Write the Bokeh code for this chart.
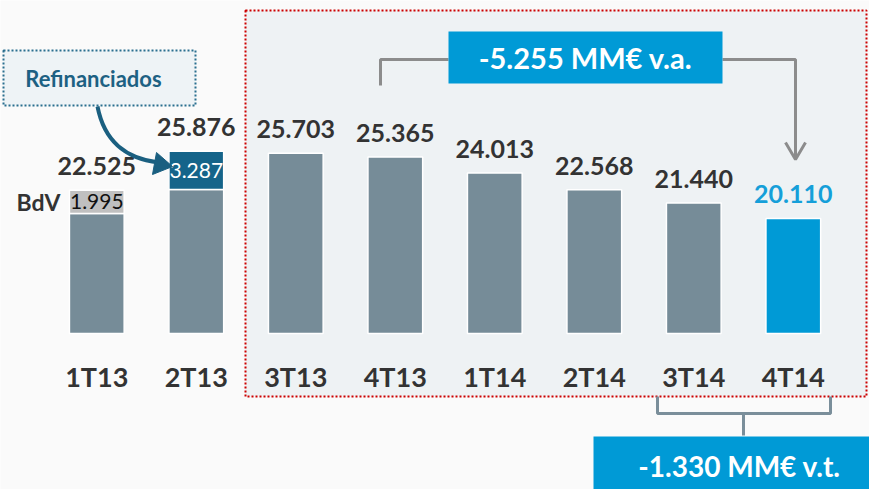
from bokeh.plotting import figure
from bokeh.models import Range1d
from bokeh.core.properties import value
from bokeh.embed import file_html
from bokeh.resources import INLINE

# ---- data ----
quarters = ["1T13", "2T13", "3T13", "4T13", "1T14", "2T14", "3T14", "4T14"]
totals = [22.525, 25.876, 25.703, 25.365, 24.013, 22.568, 21.440, 20.110]
bdv = [1.995, 0, 0, 0, 0, 0, 0, 0]
refinanciados = [0, 3.287, 0, 0, 0, 0, 0, 0]
va_label = "-5.255 MM€ v.a."
vt_label = "-1.330 MM€ v.t."
bdv_label = "BdV"
refin_label = "Refinanciados"

def fmt(v):
    return f"{v:.3f}"

# ---- layout helpers (pixel -> data) ----
W, H = 869, 489
PX0, PX_STEP = 96.3, 99.5
PY_REF, PX_PER_UNIT = 213.0, 11.66
V_REF = totals[0] - bdv[0]

def X(px):
    return (px - PX0) / PX_STEP

def Y(py):
    return V_REF - (py - PY_REF) / PX_PER_UNIT

y_floor = Y(333)
FONT = value("Lato")
DARK = "#333333"
SLATE = "#768c98"
BLUE = "#009ad6"
NAVY = "#15648a"

p = figure(width=W, height=H, x_range=Range1d(X(0), X(W)),
           y_range=Range1d(Y(H), Y(0)), output_backend="svg",
           toolbar_location=None, min_border=0,
           x_axis_type=None, y_axis_type=None)
p.grid.visible = False
p.outline_line_color = None
p.background_fill_color = "#fafafa"
p.border_fill_color = "#fafafa"

# highlighted region
p.quad(left=X(245), right=X(866), top=Y(10), bottom=Y(396),
       fill_color="#eef2f4", line_color="#cc0000", line_width=2, line_dash="2 2")

idx = list(range(len(quarters)))
base = [t - b - r for t, b, r in zip(totals, bdv, refinanciados)]
bar_colors = [SLATE] * (len(quarters) - 1) + [BLUE]

p.vbar(x=idx, width=0.55, bottom=y_floor, top=base, fill_color=bar_colors,
       line_color="white", line_width=1.5)

bi = [i for i in idx if bdv[i] > 0]
p.vbar(x=bi, width=0.55, bottom=[base[i] for i in bi], top=[totals[i] for i in bi],
       fill_color="#c0c0c0", line_color="white", line_width=1.5)
p.text(x=bi, y=[(base[i] + totals[i]) / 2 for i in bi], text=[fmt(bdv[i]) for i in bi],
       text_align="center", text_baseline="middle", text_font=FONT,
       text_font_size="21px", text_color="#111111")

ri = [i for i in idx if refinanciados[i] > 0]
p.vbar(x=ri, width=0.55, bottom=[base[i] for i in ri], top=[totals[i] for i in ri],
       fill_color=NAVY, line_color="white", line_width=1.5)
p.text(x=ri, y=[(base[i] + totals[i]) / 2 for i in ri], text=[fmt(refinanciados[i]) for i in ri],
       text_align="center", text_baseline="middle", text_font=FONT,
       text_font_size="21px", text_color="white")

# value labels
label_colors = [DARK] * (len(quarters) - 1) + ["#159fd9"]
p.text(x=idx, y=totals, text=[fmt(v) for v in totals], y_offset=-24,
       text_align="center", text_baseline="middle", text_font=FONT,
       text_font_style="bold", text_font_size="25px", text_color=label_colors)

# category labels
p.text(x=idx, y=[Y(376)] * len(idx), text=quarters,
       text_align="center", text_baseline="middle", text_font=FONT,
       text_font_style="bold", text_font_size="27px", text_color=DARK)

# BdV label
p.text(x=[X(38)], y=[Y(201)], text=[bdv_label], text_align="center",
       text_baseline="middle", text_font=FONT, text_font_style="bold",
       text_font_size="23px", text_color=DARK)

# Refinanciados callout
p.quad(left=X(3), right=X(195), top=Y(50), bottom=Y(105),
       fill_color="#eef3f6", line_color="#2a6f8f", line_width=2, line_dash="2 2")
p.text(x=[X(93)], y=[Y(78)], text=[refin_label], text_align="center",
       text_baseline="middle", text_font=FONT, text_font_style="bold",
       text_font_size="22px", text_color="#1d6183")
p.bezier(x0=X(97), y0=Y(106), x1=X(158), y1=Y(162), cx0=X(104), cy0=Y(142),
         cx1=X(126), cy1=Y(158), line_color="#1a5f80", line_width=4)
p.patch(x=[X(172), X(156), X(152)], y=[Y(166), Y(152), Y(174)],
        fill_color="#1a5f80", line_color="#1a5f80")

# year-on-year bracket
GRAY = "#8c8c8c"
p.line(x=[X(380), X(380), X(448)], y=[Y(85), Y(59), Y(59)], line_color=GRAY, line_width=3)
p.line(x=[X(722), X(795), X(795)], y=[Y(59), Y(59), Y(158)], line_color=GRAY, line_width=3)
p.line(x=[X(785), X(795), X(805)], y=[Y(142), Y(159), Y(142)], line_color=GRAY, line_width=3)
p.quad(left=X(448), right=X(722), top=Y(31), bottom=Y(83), fill_color=BLUE, line_color=None)
p.text(x=[X(585)], y=[Y(57)], text=[va_label], text_align="center",
       text_baseline="middle", text_font=FONT, text_font_style="bold",
       text_font_size="29px", text_color="white")

# quarter-on-quarter bracket
BR = "#7a8e9a"
p.line(x=[X(657), X(657), X(830), X(830)], y=[Y(396), Y(413), Y(413), Y(396)],
       line_color=BR, line_width=3)
p.line(x=[X(743), X(743)], y=[Y(413), Y(435)], line_color=BR, line_width=3)
p.quad(left=X(593), right=X(890), top=Y(436), bottom=Y(500), fill_color=BLUE, line_color=None)
p.text(x=[X(739)], y=[Y(465)], text=[vt_label], text_align="center",
       text_baseline="middle", text_font=FONT, text_font_style="bold",
       text_font_size="28px", text_color="white")

open("out.html", "w").write(file_html(p, INLINE))
